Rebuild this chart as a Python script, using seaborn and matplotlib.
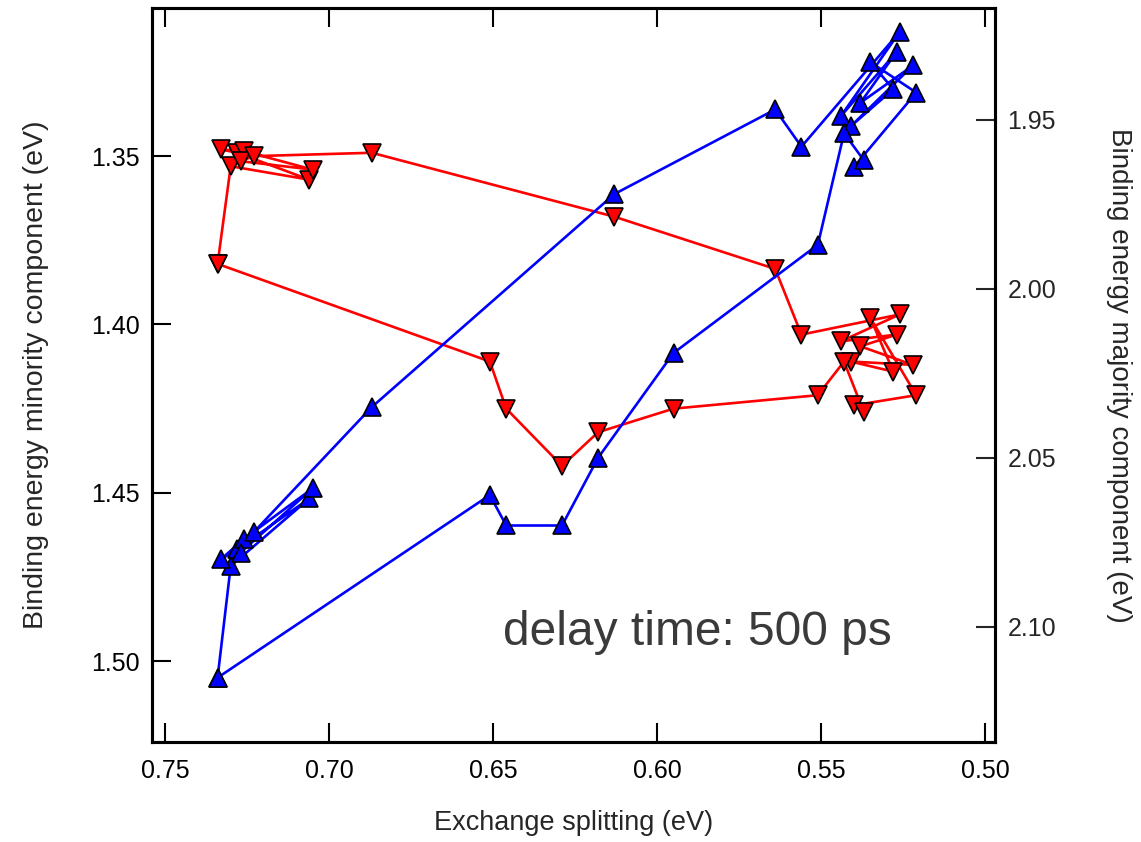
import numpy as np
import pandas as pd
import matplotlib
matplotlib.use('Agg')
import matplotlib.pyplot as plt
import seaborn as sns

# exchange splitting (eV), shared by both components, in path order (loop closes on first point)
x_split = [0.734, 0.730, 0.706, 0.728, 0.733, 0.726, 0.705, 0.727, 0.723, 0.687,
           0.613, 0.564, 0.556, 0.526, 0.544, 0.527, 0.538, 0.522, 0.541, 0.528,
           0.535, 0.521, 0.540, 0.537, 0.543, 0.551, 0.595, 0.618, 0.629, 0.646,
           0.651, 0.734]

# binding energy minority component (eV), left axis
minority = [1.382, 1.353, 1.357, 1.349, 1.348, 1.3485, 1.354, 1.3515, 1.350, 1.349,
            1.368, 1.3835, 1.403, 1.397, 1.405, 1.403, 1.4065, 1.412, 1.411, 1.414,
            1.398, 1.421, 1.424, 1.426, 1.411, 1.421, 1.425, 1.432, 1.442, 1.425,
            1.411, 1.382]

# binding energy majority component (eV), right axis
majority = [2.115, 2.082, 2.062, 2.077, 2.080, 2.074, 2.059, 2.078, 2.072, 2.035,
            1.972, 1.947, 1.958, 1.924, 1.949, 1.930, 1.945, 1.934, 1.952, 1.941,
            1.933, 1.942, 1.964, 1.962, 1.954, 1.987, 2.019, 2.050, 2.070, 2.070,
            2.061, 2.115]

x_ticks = [0.75, 0.70, 0.65, 0.60, 0.55, 0.50]
left_ticks = [1.35, 1.40, 1.45, 1.50]
right_ticks = [1.95, 2.00, 2.05, 2.10]

df = pd.DataFrame({'split': x_split, 'minority': minority, 'majority': majority})

sns.set_style('ticks')
plt.rcParams['font.family'] = ['Liberation Sans', 'DejaVu Sans']

fig = plt.figure(figsize=(11.41, 8.42), dpi=100)
ax = fig.add_axes([0.1332, 0.1188, 0.7388, 0.8717])
ax2 = ax.twinx()

sns.lineplot(data=df, x='split', y='minority', ax=ax, sort=False, estimator=None,
             color='#ff0000', linewidth=1.9, marker='v', markersize=13,
             markerfacecolor='#ff0000', markeredgecolor='black', markeredgewidth=1.2)
sns.lineplot(data=df, x='split', y='majority', ax=ax2, sort=False, estimator=None,
             color='#0000ff', linewidth=1.9, marker='^', markersize=13,
             markerfacecolor='#0000ff', markeredgecolor='black', markeredgewidth=1.2)

ax.set_xlim(0.754, 0.497)
ax.set_ylim(1.524, 1.306)
ax2.set_ylim(2.134, 1.917)

ax.set_xticks(x_ticks)
ax.set_xticklabels([f'{v:.2f}' for v in x_ticks])
ax.set_yticks(left_ticks)
ax.set_yticklabels([f'{v:.2f}' for v in left_ticks])
ax2.set_yticks(right_ticks)
ax2.set_yticklabels([f'{v:.2f}' for v in right_ticks])

ax.tick_params(axis='both', direction='in', length=14, width=1.5, labelsize=18,
               colors='black', pad=9)
ax.tick_params(axis='x', top=True, pad=12)
ax.tick_params(axis='y', right=False)
ax2.tick_params(axis='y', direction='in', length=14, width=1.5, labelsize=18, pad=9)

for a in (ax, ax2):
    for s in a.spines.values():
        s.set_linewidth(2.2)
        s.set_color('black')

ax.set_xlabel('Exchange splitting (eV)', fontsize=19.5, labelpad=20)
ax.set_ylabel('Binding energy minority component (eV)', fontsize=20.5, labelpad=30)
ax2.set_ylabel('Binding energy majority component (eV)', fontsize=20, labelpad=36,
               rotation=-90, va='bottom')

ax.text(0.416, 0.132, 'delay time: 500 ps', transform=ax.transAxes, fontsize=34.5,
        color='#3a3a3a', ha='left', va='baseline')

fig.savefig('out.png', dpi=100)
